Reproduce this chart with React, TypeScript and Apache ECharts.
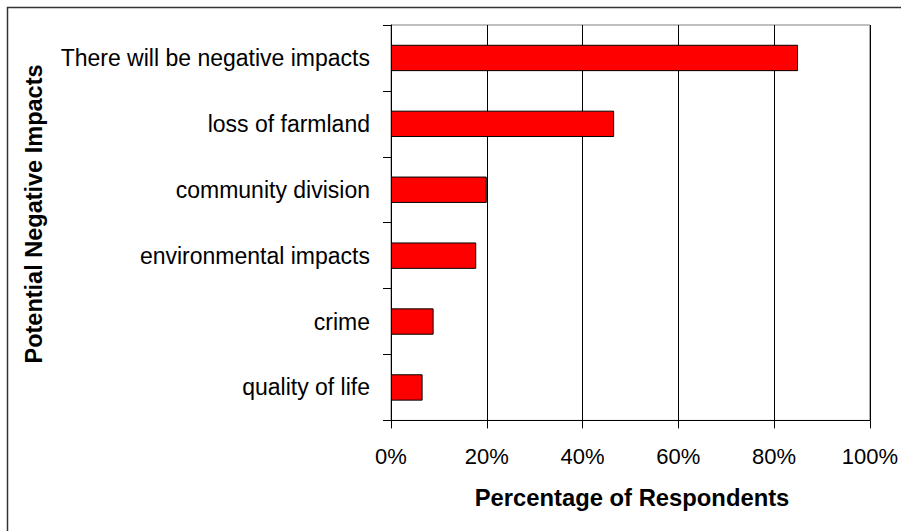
import React, { useEffect, useRef } from "react";
import * as echarts from "echarts";

const categories = [
  "There will be negative impacts",
  "loss of farmland",
  "community division",
  "environmental impacts",
  "crime",
  "quality of life",
];
const values = [85, 46.6, 20, 17.8, 8.9, 6.6];
const xTicks = { min: 0, max: 100, interval: 20 };
const xTitle = "Percentage of Respondents";
const yTitle = "Potential Negative Impacts";

const FONT = "'Liberation Sans', Arial, sans-serif";

export default function App() {
  const ref = useRef<HTMLDivElement>(null);
  useEffect(() => {
    if (!ref.current) return;
    const chart = echarts.init(ref.current, undefined, { renderer: "svg" });
    chart.setOption({
      animation: false,
      backgroundColor: "#ffffff",
      grid: {
        left: 391,
        right: 28,
        top: 25,
        bottom: 110.6,
        show: true,
        borderColor: "#808080",
        borderWidth: 1,
        backgroundColor: "transparent",
      },
      xAxis: {
        type: "value",
        min: xTicks.min,
        max: xTicks.max,
        interval: xTicks.interval,
        axisLine: { show: true, lineStyle: { color: "#000", width: 1 } },
        axisTick: { show: true, length: 8, inside: false, lineStyle: { color: "#000" } },
        axisLabel: {
          formatter: "{value}%",
          color: "#000",
          fontSize: 22,
          fontFamily: FONT,
          margin: 25,
        },
        splitLine: { show: true, lineStyle: { color: "#000", width: 1 } },
      },
      yAxis: {
        type: "category",
        data: categories,
        inverse: true,
        axisLine: { show: true, lineStyle: { color: "#000", width: 1 } },
        axisTick: { show: true, length: 8, inside: false, alignWithLabel: false, lineStyle: { color: "#000" } },
        axisLabel: {
          color: "#000",
          fontSize: 23,
          fontFamily: FONT,
          margin: 21,
        },
        splitLine: { show: false },
      },
      series: [
        {
          type: "bar",
          data: values,
          barCategoryGap: "60%",
          itemStyle: { color: "#ff0000", borderColor: "#000", borderWidth: 1 },
        },
      ],
      graphic: [
        {
          type: "rect",
          shape: { x: 7.5, y: 7.5, width: 1000, height: 1000 },
          style: { fill: "none", stroke: "#333", lineWidth: 1.5 },
          silent: true,
          z: -1,
        },
        {
          type: "text",
          x: 632,
          y: 497,
          style: {
            text: xTitle,
            fontSize: 23.8,
            fontWeight: "bold",
            fontFamily: FONT,
            fill: "#000",
            textAlign: "center",
            textVerticalAlign: "middle",
          },
        },
        {
          type: "text",
          x: 34,
          y: 214,
          rotation: Math.PI / 2,
          style: {
            text: yTitle,
            fontSize: 23.5,
            fontWeight: "bold",
            fontFamily: FONT,
            fill: "#000",
            textAlign: "center",
            textVerticalAlign: "middle",
          },
        },
      ],
    });
    return () => chart.dispose();
  }, []);
  return (
    <div
      ref={ref}
      style={{ position: "fixed", left: 0, top: 0, width: 901, height: 531, background: "#fff" }}
    />
  );
}
